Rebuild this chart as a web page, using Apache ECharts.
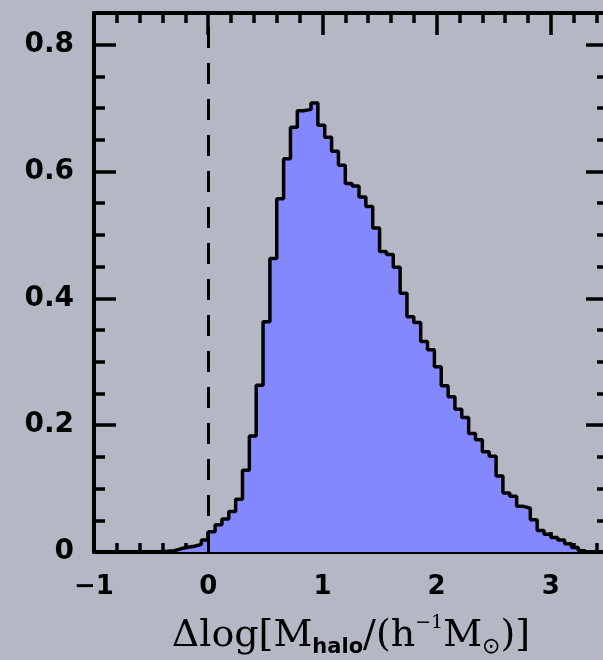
<!DOCTYPE html>
<html><head><meta charset="utf-8">
<script src="https://cdn.jsdelivr.net/npm/echarts@6/dist/echarts.min.js"></script>
<style>html,body{margin:0;padding:0;background:#b4b8c4;} #c{width:603px;height:660px;}</style>
</head><body><div id="c"></div>
<script>
// ---- data ----
const binStart = -0.48;   // left edge of first bin
const binWidth = 0.06;
const density = [
  0.0005, 0.001, 0.002, 0.005, 0.0075, 0.009, 0.012, 0.019,
  0.032, 0.043, 0.052, 0.064, 0.083, 0.129, 0.183, 0.263, 0.363, 0.463,
  0.557, 0.62, 0.67, 0.696, 0.698, 0.708, 0.673, 0.654, 0.632, 0.61,
  0.581, 0.577, 0.56, 0.545, 0.511, 0.474, 0.469, 0.449, 0.408, 0.371,
  0.362, 0.332, 0.319, 0.292, 0.262, 0.245, 0.225, 0.212, 0.187, 0.177,
  0.158, 0.151, 0.12, 0.093, 0.088, 0.072, 0.069, 0.051, 0.034, 0.028,
  0.023, 0.019, 0.013, 0.007, 0.002
];
const xMajorTicks = [-1, 0, 1, 2, 3];
const xTickLabels = ['\u22121', '0', '1', '2', '3'];
const xMinorTicks = [-0.8,-0.6,-0.4,-0.2,0.2,0.4,0.6,0.8,1.2,1.4,1.6,1.8,2.2,2.4,2.6,2.8,3.2,3.4];
const yMajorTicks = [0, 0.2, 0.4, 0.6, 0.8];
const yTickLabels = ['0', '0.2', '0.4', '0.6', '0.8'];
const yMinorTicks = [0.05,0.1,0.15,0.25,0.3,0.35,0.45,0.5,0.55,0.65,0.7,0.75];
const xRange = [-1, 3.5];
const yRange = [0, 0.85];
const refLineX = 0;

// ---- build step outline from bins ----
const pts = [[binStart, 0]];
density.forEach((v, i) => pts.push([binStart + i * binWidth, v]));
pts.push([binStart + density.length * binWidth, 0]);

const AX = '#000';
function axis(dim, pos, ticks, len, withLine, labelInfo) {
  const range = dim === 'x' ? xRange : yRange;
  const a = {
    type: 'value', position: pos, min: range[0], max: range[1],
    splitLine: { show: false },
    axisLine: { show: withLine, onZero: false, lineStyle: { color: AX, width: 4 } },
    axisTick: { show: true, inside: true, length: len, customValues: ticks, lineStyle: { color: AX, width: 3.5 } },
    axisLabel: { show: false }
  };
  if (labelInfo) a.axisLabel = labelInfo;
  return a;
}

const chart = echarts.init(document.getElementById('c'), null, { renderer: 'canvas' });
const xMain = axis('x', 'bottom', xMajorTicks, 20, true, {
  show: true, customValues: xMajorTicks, margin: 22,
  formatter: v => xTickLabels[xMajorTicks.indexOf(v)],
  fontFamily: 'DejaVu Sans', fontWeight: 'bold', fontSize: 26, color: '#000'
});
xMain.name = '{m|\u0394log[M}{s|halo}{m|/(h}{p|\u22121}{m|M}{o|\u2299}{m|)]}';
xMain.nameLocation = 'middle';
xMain.nameGap = 62;
xMain.nameTextStyle = {
  rich: {
    m: { fontFamily: 'DejaVu Serif', fontSize: 38, lineHeight: 44, verticalAlign: 'middle', color: '#000' },
    s: { fontFamily: 'DejaVu Sans', fontWeight: 'bold', fontSize: 21, lineHeight: 21, verticalAlign: 'bottom', color: '#000' },
    p: { fontFamily: 'DejaVu Serif', fontSize: 19, lineHeight: 19, verticalAlign: 'top', color: '#000' },
    o: { fontFamily: 'DejaVu Sans', fontSize: 22, lineHeight: 22, verticalAlign: 'bottom', color: '#000' }
  }
};

const option = {
  backgroundColor: '#b4b8c4',
  animation: false,
  grid: { left: 94, right: -5, top: 13, bottom: 108, containLabel: false, outerBoundsMode: 'none' },
  xAxis: [
    xMain,
    axis('x', 'bottom', xMinorTicks, 9, false),
    axis('x', 'top', xMajorTicks, 22, true),
    axis('x', 'top', xMinorTicks, 10, false)
  ],
  yAxis: [
    axis('y', 'left', yMajorTicks, 22, true, {
      show: true, customValues: yMajorTicks, margin: 20,
      formatter: v => yTickLabels[yMajorTicks.indexOf(v)],
      fontFamily: 'DejaVu Sans', fontWeight: 'bold', fontSize: 28, color: '#000'
    }),
    axis('y', 'left', yMinorTicks, 11, false),
    axis('y', 'right', yMajorTicks, 22, true),
    axis('y', 'right', yMinorTicks, 11, false)
  ],
  series: [{
    type: 'line', xAxisIndex: 0, yAxisIndex: 0,
    data: pts, step: 'end', showSymbol: false, symbol: 'none',
    lineStyle: { color: '#000', width: 3.5 },
    areaStyle: { color: '#8488ff', opacity: 1 },
    z: 2,
    markLine: {
      silent: true, symbol: 'none', label: { show: false },
      lineStyle: { color: '#000', width: 3, type: [21, 15] },
      data: [{ xAxis: refLineX }]
    }
  }]
};
chart.setOption(option);
</script></body></html>
